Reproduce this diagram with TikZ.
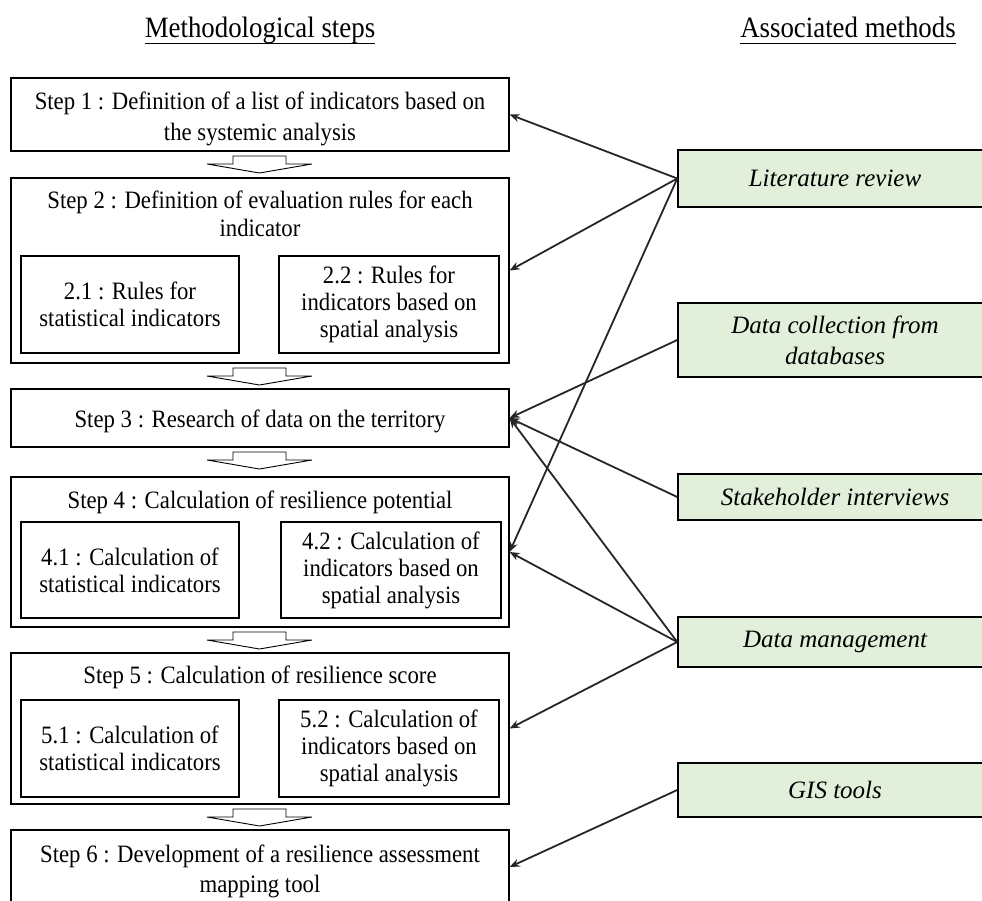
\documentclass[tikz,border=0pt]{standalone}
\usepackage{fontspec}
\setmainfont{Liberation Serif}
\newfontfamily\stepfont[FakeStretch=0.91]{Liberation Serif}
\usetikzlibrary{arrows.meta}
\definecolor{greenfill}{HTML}{E2EFDA}
\definecolor{linkcol}{HTML}{262626}
\begin{document}
\begin{tikzpicture}[x=1pt,y=-1pt,
  stepbox/.style={draw=black, line width=1.2pt, fill=white, inner sep=0pt, minimum width=498pt},
  subbox/.style={draw=black, line width=2.4pt, fill=white, inner sep=0pt, align=center,
    minimum height=97pt, font=\stepfont\fontsize{25}{27}\selectfont},
  steptext/.style={inner sep=0pt, align=center, font=\stepfont\fontsize{25}{31}\selectfont},
  greenbox/.style={draw=black, line width=1.5pt, fill=greenfill, inner sep=0pt, align=center,
    minimum width=314pt, font=\fontsize{25}{31}\selectfont\itshape},
  titletext/.style={inner sep=0pt, font=\stepfont\fontsize{29.5}{32}\selectfont},
  link/.style={draw=linkcol, line width=1.8pt, -{Stealth[length=10pt,width=8pt]}},
  blockarrow/.style={draw=black, line width=0.9pt, fill=white, line join=miter},
  pics/downarrow/.style={code={
    \draw[blockarrow] (-26.5,0) -- (26.5,0) -- (26.5,8) -- (52.5,8) -- (0,17)
      -- (-52.5,8) -- (-26.5,8) -- cycle;}}
]
\useasboundingbox (0,0) rectangle (982,901);
\clip (0,0) rectangle (982,901);

% titles
\node[titletext, anchor=base] (t1) at (260,38) {Methodological steps};
\node[titletext, anchor=base] (t2) at (848,38) {Associated methods};
\draw[line width=1.3pt] ([yshift=-5.5pt]t1.base west) -- ([yshift=-5.5pt]t1.base east);
\draw[line width=1.3pt] ([yshift=-5.5pt]t2.base west) -- ([yshift=-5.5pt]t2.base east);

% step 1
\node[stepbox, minimum height=73pt] (s1) at (260,114.5) {};
\node[steptext] (s1t) at (260,119)
  {Step 1 : Definition of a list of indicators based on\\the systemic analysis};

% step 2
\node[stepbox, minimum height=185pt] (s2) at (260,270.5) {};
\node[steptext, font=\stepfont\fontsize{25}{27.5}\selectfont] (s2t) at (260,214)
  {Step 2 : Definition of evaluation rules for each\\indicator};
\node[subbox, minimum width=218pt] (s21) at (130,304.5) {2.1 : Rules for\\statistical indicators};
\node[subbox, minimum width=220pt] (s22) at (389,304.5) {2.2 : Rules for\\indicators based on\\spatial analysis};

% step 3
\node[stepbox, minimum height=58pt] (s3) at (260,418) {};
\node[steptext, anchor=base] (s3t) at (260,427) {Step 3 : Research of data on the territory};

% step 4
\node[stepbox, minimum height=150pt] (s4) at (260,552) {};
\node[steptext, anchor=base] (s4t) at (260,508) {Step 4 : Calculation of resilience potential};
\node[subbox, minimum width=218pt, minimum height=96pt] (s41) at (130,570) {4.1 : Calculation of\\statistical indicators};
\node[subbox, minimum width=220pt, minimum height=96pt] (s42) at (391,570) {4.2 : Calculation of\\indicators based on\\spatial analysis};

% step 5
\node[stepbox, minimum height=151pt] (s5) at (260,728.5) {};
\node[steptext, anchor=base] (s5t) at (260,683) {Step 5 : Calculation of resilience score};
\node[subbox, minimum width=218pt] (s51) at (130,748.5) {5.1 : Calculation of\\statistical indicators};
\node[subbox, minimum width=220pt] (s52) at (389,748.5) {5.2 : Calculation of\\indicators based on\\spatial analysis};

% step 6
\node[stepbox, minimum height=74pt] (s6) at (260,867) {};
\node[steptext, font=\stepfont\fontsize{25}{30}\selectfont] (s6t) at (260,871)
  {Step 6 : Development of a resilience assessment\\mapping tool};

% block arrows
\pic at (259.5,156) {downarrow};
\pic at (259.5,368) {downarrow};
\pic at (259.5,452) {downarrow};
\pic at (259.5,632) {downarrow};
\pic at (259.5,809) {downarrow};

% associated methods
\node[greenbox, minimum height=57pt] (lit) at (835,178.5) {Literature review};
\node[greenbox, minimum height=74pt] (dc) at (835,340) {Data collection from\\databases};
\node[greenbox, minimum height=46pt] (sh) at (835,497) {Stakeholder interviews};
\node[greenbox, minimum height=50pt] (dm) at (835,642) {Data management};
\node[greenbox, minimum height=54pt] (gis) at (835,790) {GIS tools};

% links
\draw[link] (lit.west) -- (s1.east);
\draw[link] (lit.west) -- (s2.east);
\draw[link] (lit.west) -- (s4.east);
\draw[link] (dc.west) -- (s3.east);
\draw[link] (sh.west) -- (s3.east);
\draw[link] (dm.west) -- (s3.east);
\draw[link] (dm.west) -- (s4.east);
\draw[link] (dm.west) -- (s5.east);
\draw[link] (gis.west) -- (s6.east);
\end{tikzpicture}
\end{document}
